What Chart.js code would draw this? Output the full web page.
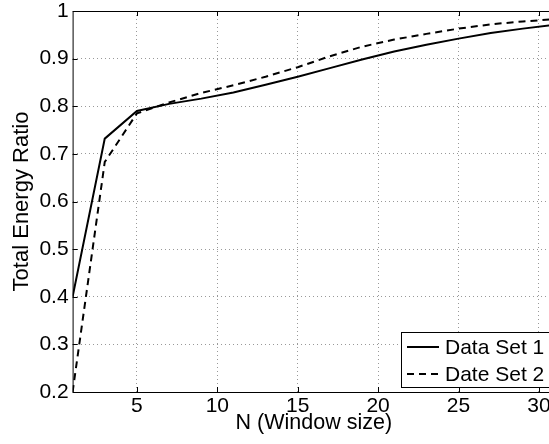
<!DOCTYPE html>
<html>
<head>
<meta charset="utf-8">
<script src="https://cdn.jsdelivr.net/npm/chart.js@4.4.0/dist/chart.umd.min.js"></script>
<style>
  html, body { margin: 0; padding: 0; overflow: hidden; background: #fff; }
  #wrap { width: 560px; height: 444px; }
</style>
</head>
<body>
<div id="wrap"><canvas id="energy-chart"></canvas></div>
<script>
// Window sizes and the two measured series
const windowSizes = [1, 3, 5, 7, 9, 11, 13, 15, 17, 19, 21, 23, 25, 27, 29, 31];
const dataSet1 = [0.40, 0.732, 0.79, 0.805, 0.816, 0.829, 0.845, 0.862, 0.88, 0.898, 0.915, 0.929, 0.942, 0.954, 0.963, 0.971];
const dataSet2 = [0.20, 0.683, 0.785, 0.808, 0.828, 0.844, 0.862, 0.882, 0.905, 0.925, 0.94, 0.952, 0.963, 0.972, 0.978, 0.983];
const seriesLabels = ['Data Set 1', 'Date Set 2'];
const xTicks = [5, 10, 15, 20, 25, 30];
const yTicks = [0.2, 0.3, 0.4, 0.5, 0.6, 0.7, 0.8, 0.9, 1];

const FONT = 'Liberation Sans, Arial, Helvetica, sans-serif';

function toPoints(values) {
  return values.map((v, i) => ({ x: windowSizes[i], y: v }));
}

// box round the plot, with short inward ticks (matlab style)
const frameTicksPlugin = {
  id: 'frameTicks',
  afterDraw(chart) {
    const { ctx, chartArea, scales } = chart;
    const { left, right, top, bottom } = chartArea;
    const len = 5;
    ctx.save();
    ctx.strokeStyle = '#000';
    ctx.lineWidth = 1;
    ctx.beginPath();
    ctx.rect(left + 0.5, top + 0.5, right - left, bottom - top);
    ctx.stroke();
    ctx.beginPath();
    xTicks.forEach(v => {
      const px = Math.round(scales.x.getPixelForValue(v)) + 0.5;
      ctx.moveTo(px, bottom);
      ctx.lineTo(px, bottom - len);
      ctx.moveTo(px, top);
      ctx.lineTo(px, top + len);
    });
    yTicks.forEach(v => {
      const py = Math.round(scales.y.getPixelForValue(v)) + 0.5;
      ctx.moveTo(left, py);
      ctx.lineTo(left + len, py);
      ctx.moveTo(right, py);
      ctx.lineTo(right - len, py);
    });
    ctx.stroke();
    ctx.restore();
  }
};

// legend box in the lower right corner of the plot
const cornerLegendPlugin = {
  id: 'cornerLegend',
  afterDraw(chart) {
    const { ctx, chartArea } = chart;
    const w = 154, h = 55;
    const bx = chartArea.right - w;
    const by = chartArea.bottom - 5 - h;
    ctx.save();
    ctx.fillStyle = '#fff';
    ctx.fillRect(bx, by, w, h);
    ctx.strokeStyle = '#000';
    ctx.lineWidth = 1;
    ctx.strokeRect(Math.round(bx) + 0.5, Math.round(by) + 0.5, w, h);
    ctx.font = '21px ' + FONT;
    ctx.textBaseline = 'middle';
    ctx.fillStyle = '#000';
    chart.data.datasets.forEach((ds, i) => {
      const ry = by + 15 + i * 27;
      ctx.beginPath();
      ctx.lineWidth = 2;
      ctx.setLineDash(ds.borderDash || []);
      ctx.moveTo(bx + 6, ry);
      ctx.lineTo(bx + 38, ry);
      ctx.stroke();
      ctx.setLineDash([]);
      ctx.fillText(ds.label, bx + 44, ry + 1);
    });
    ctx.restore();
  }
};

new Chart(document.getElementById('energy-chart'), {
  type: 'line',
  data: {
    datasets: [{
      label: seriesLabels[0],
      data: toPoints(dataSet1),
      borderColor: '#000',
      borderWidth: 2,
      pointRadius: 0,
      tension: 0,
      fill: false
    }, {
      label: seriesLabels[1],
      data: toPoints(dataSet2),
      borderColor: '#000',
      borderWidth: 2,
      borderDash: [7, 5],
      pointRadius: 0,
      tension: 0,
      fill: false
    }]
  },
  options: {
    responsive: true,
    maintainAspectRatio: false,
    animation: false,
    layout: { padding: { top: 11, right: 5, left: 0, bottom: 0 } },
    plugins: {
      legend: { display: false },
      tooltip: { enabled: false }
    },
    scales: {
      x: {
        type: 'linear',
        min: 1,
        max: 31,
        afterBuildTicks: axis => { axis.ticks = xTicks.map(v => ({ value: v })); },
        afterFit: axis => {
          axis.height = 52;
          axis.paddingLeft = 0;
          axis.paddingRight = 0;
        },
        ticks: {
          color: '#000',
          font: { family: FONT, size: 21 },
          padding: 2,
          maxRotation: 0
        },
        grid: { color: '#999', drawTicks: false },
        border: { display: false, dash: [1, 3] },
        title: {
          display: true,
          text: 'N (Window size)',
          color: '#000',
          font: { family: FONT, size: 21.5 },
          padding: { top: 0, bottom: 8 }
        }
      },
      y: {
        type: 'linear',
        min: 0.2,
        max: 1,
        afterBuildTicks: axis => { axis.ticks = yTicks.map(v => ({ value: v })); },
        afterFit: axis => {
          axis.width = 72.6;
          axis.paddingTop = 0;
          axis.paddingBottom = 0;
        },
        ticks: {
          color: '#000',
          font: { family: FONT, size: 21 },
          padding: 4,
          callback: v => String(Math.round(v * 10) / 10)
        },
        grid: { color: '#999', drawTicks: false },
        border: { display: false, dash: [1, 3] },
        title: {
          display: true,
          text: 'Total Energy Ratio',
          color: '#000',
          font: { family: FONT, size: 22 },
          padding: { top: 9, bottom: 0 }
        }
      }
    }
  },
  plugins: [frameTicksPlugin, cornerLegendPlugin]
});
</script>
</body>
</html>
